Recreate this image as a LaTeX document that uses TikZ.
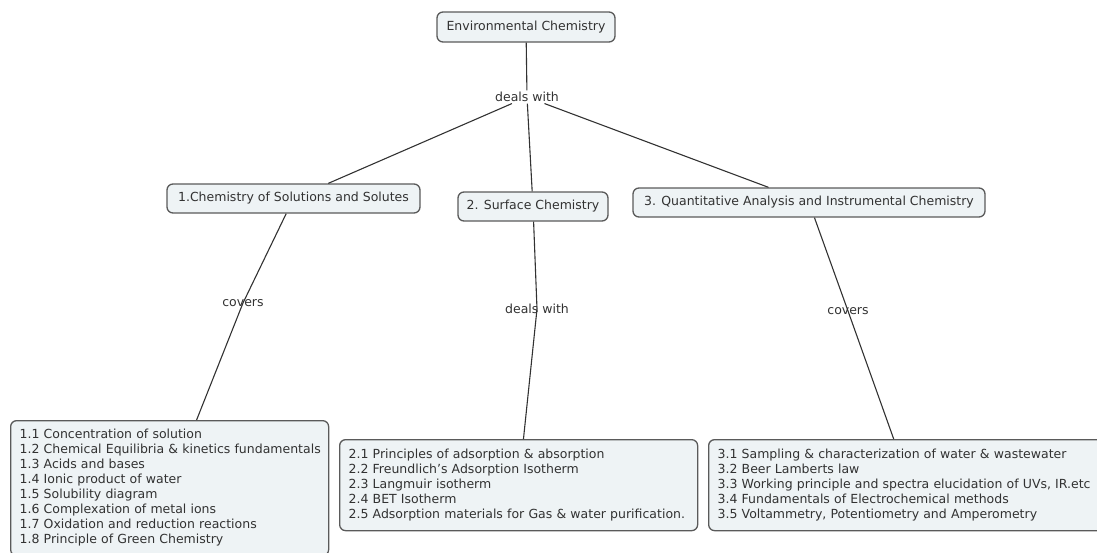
\documentclass[tikz,border=0pt]{standalone}
\usepackage{fontspec}
\setmainfont{DejaVu Sans}
\definecolor{boxfill}{RGB}{238,243,245}
\definecolor{boxline}{RGB}{90,90,90}
\definecolor{txt}{RGB}{50,50,50}
\begin{document}
\begin{tikzpicture}[x=1pt,y=-1pt,
  every node/.style={text=txt, font=\fontsize{12.5}{15}\selectfont},
  concept/.style={draw=boxline, line width=1.3pt, fill=boxfill, rounded corners=6pt, inner sep=0pt},
  topbox/.style={concept, align=center},
  listbox/.style={concept, anchor=north west, align=left, inner xsep=9pt, inner ysep=0pt},
  linklabel/.style={inner sep=1.5pt},
  link/.style={draw=txt, line width=1.1pt}]
\useasboundingbox (0,0) rectangle (1097,552);
% concepts
\node[topbox, minimum width=178pt, minimum height=30pt] (env) at (526,27) {Environmental Chemistry};
\node[topbox, minimum width=253pt, minimum height=29pt] (c1) at (293.5,198.5) {1.Chemistry of Solutions and Solutes};
\node[topbox, minimum width=150pt, minimum height=29pt] (c2) at (533,206.5) {2. Surface Chemistry};
\node[topbox, minimum width=352pt, minimum height=29pt] (c3) at (809,202.5) {3. Quantitative Analysis and Instrumental Chemistry};
% link labels
\node[linklabel] (dw) at (527,97) {deals with};
\node[linklabel] (cov1) at (243,303) {covers};
\node[linklabel] (dw2) at (537,309) {deals with};
\node[linklabel] (cov3) at (848,311) {covers};
% lists
\node[listbox, text width=300pt, minimum height=135pt] (l1) at (10,420) {\begin{tabular}{@{}l@{}}
1.1 Concentration of solution\\
1.2 Chemical Equilibria \& kinetics fundamentals\\
1.3 Acids and bases\\
1.4 Ionic product of water\\
1.5 Solubility diagram\\
1.6 Complexation of metal ions\\
1.7 Oxidation and reduction reactions\\
1.8 Principle of Green Chemistry
\end{tabular}};
\node[listbox, text width=340pt, minimum height=91pt] (l2) at (339,439) {\begin{tabular}{@{}l@{}}
2.1 Principles of adsorption \& absorption\\
2.2 Freundlich’s Adsorption Isotherm\\
2.3 Langmuir isotherm\\
2.4 BET Isotherm\\
2.5 Adsorption materials for Gas \& water purification.
\end{tabular}};
\node[listbox, text width=385pt, minimum height=91pt] (l3) at (708,439) {\begin{tabular}{@{}l@{}}
3.1 Sampling \& characterization of water \& wastewater\\
3.2 Beer Lamberts law\\
3.3 Working principle and spectra elucidation of UVs, IR.etc\\
3.4 Fundamentals of Electrochemical methods\\
3.5 Voltammetry, Potentiometry and Amperometry
\end{tabular}};
% connectors
\draw[link] (env) -- (dw);
\draw[link] (dw) -- (c1);
\draw[link] (dw) -- (c2);
\draw[link] (dw) -- (c3);
\draw[link] (c1) -- (cov1.center) -- (l1);
\draw[link] (c2) -- (dw2.center) -- (l2);
\draw[link] (c3) -- (cov3.center) -- (l3);
\end{tikzpicture}
\end{document}
